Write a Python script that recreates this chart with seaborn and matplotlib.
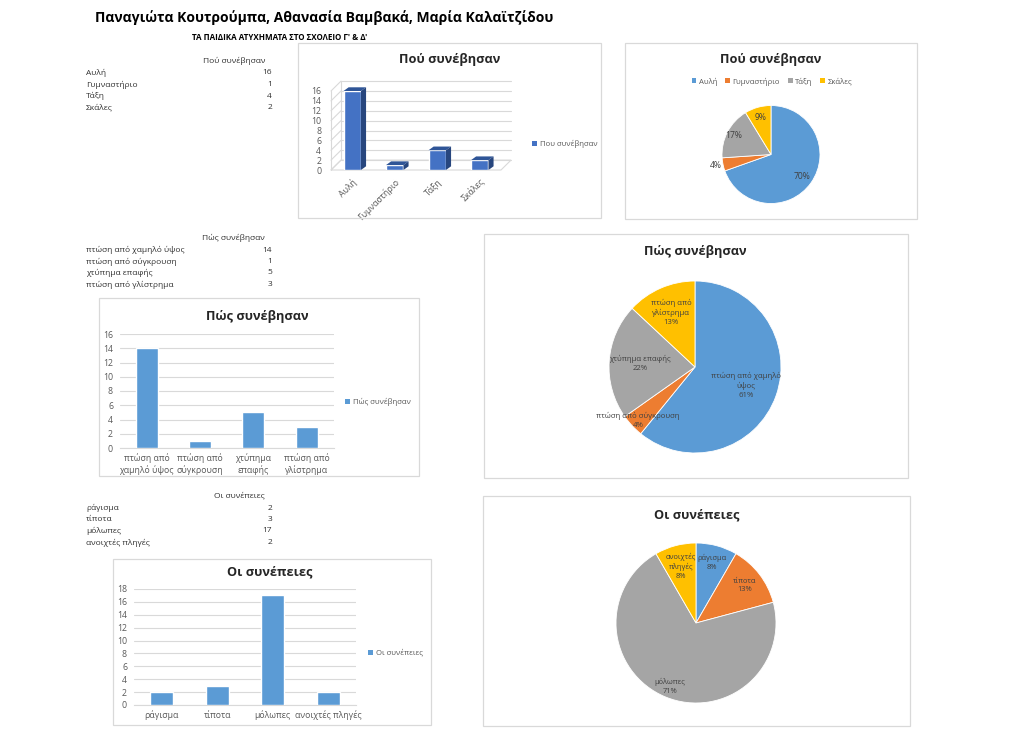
import numpy as np
import matplotlib
matplotlib.use("Agg")
import matplotlib.pyplot as plt
import seaborn as sns
from matplotlib.patches import Rectangle, Polygon, Patch

# ---------------- data ----------------
main_title = "Παναγιώτα Κουτρούμπα, Αθανασία Βαμβακά, Μαρία Καλαϊτζίδου"
sub_title = "ΤΑ ΠΑΙΔΙΚΑ ΑΤΥΧΗΜΑΤΑ ΣΤΟ ΣΧΟΛΕΙΟ Γ' & Δ'"

where_title = "Πού συνέβησαν"
where_legend = "Που συνέβησαν"
where_cats = ["Αυλή", "Γυμναστήριο", "Τάξη", "Σκάλες"]
where_vals = [16, 1, 4, 2]

how_title = "Πώς συνέβησαν"
how_cats = ["πτώση από χαμηλό ύψος", "πτώση από σύγκρουση", "χτύπημα επαφής", "πτώση από γλίστρημα"]
how_vals = [14, 1, 5, 3]
how_tick_labels = ["πτώση από\nχαμηλό ύψος", "πτώση από\nσύγκρουση", "χτύπημα\nεπαφής", "πτώση από\nγλίστρημα"]
how_pie_labels = ["πτώση από χαμηλό\nύψος", "πτώση από σύγκρουση", "χτύπημα επαφής", "πτώση από\nγλίστρημα"]

cons_title = "Οι συνέπειες"
cons_cats = ["ράγισμα", "τίποτα", "μόλωπες", "ανοιχτές πληγές"]
cons_vals = [2, 3, 17, 2]
cons_pie_labels = ["ράγισμα", "τίποτα", "μόλωπες", "ανοιχτές\nπληγές"]

# ---------------- style ----------------
sns.set_theme(style="white")
plt.rcParams['font.family'] = ['Open Sans', 'DejaVu Sans']

BAR_BLUE = "#5B9BD5"
BAR3D_FRONT = "#4472C4"
BAR3D_TOP = "#2F5597"
BAR3D_SIDE = "#27467E"
PIE_COLORS = ["#5B9BD5", "#ED7D31", "#A5A5A5", "#FFC000"]
GRID = "#D9D9D9"
TXT = "#595959"
LBL = "#404040"

W, H = 1024, 741
fig = plt.figure(figsize=(W / 100, H / 100), dpi=100)
fig.patch.set_facecolor("white")


def fx(x):
    return x / W


def fy(y):
    return 1 - y / H


def px_axes(x0, y0, x1, y1):
    return fig.add_axes([x0 / W, 1 - y1 / H, (x1 - x0) / W, (y1 - y0) / H])


def panel(x0, y0, x1, y1):
    fig.add_artist(Rectangle((fx(x0), fy(y1)), (x1 - x0) / W, (y1 - y0) / H,
                             transform=fig.transFigure, fill=False,
                             edgecolor=GRID, linewidth=0.9))


def pct_labels(vals):
    tot = sum(vals)
    return [f"{int(100 * v / tot + 0.5)}%" for v in vals]


# ---------------- titles ----------------
fig.text(fx(95), fy(18), main_title, fontsize=10.0, fontweight='bold',
         ha='left', va='center', color='black')
fig.text(fx(280), fy(37), sub_title, fontsize=5.8, fontweight='bold',
         ha='center', va='center', color='black')

# ---------------- tables ----------------
def table(header, cats, vals, y_head, ys):
    fig.text(fx(265), fy(y_head), header, fontsize=6, ha='right', va='center', color='#303030')
    for c, v, y in zip(cats, vals, ys):
        fig.text(fx(86), fy(y), c, fontsize=6, ha='left', va='center', color='#303030')
        fig.text(fx(272), fy(y), str(v), fontsize=6, ha='right', va='center', color='#303030')


table(where_title, where_cats, where_vals, 61, [73, 84.5, 96, 107.5])
table(how_title, how_cats, how_vals, 238, [250, 261.5, 273, 284.5])
table(cons_title, cons_cats, cons_vals, 496, [508, 519.5, 531, 542.5])

# ---------------- panels ----------------
panel(298, 43, 601, 218)
panel(625, 43, 917, 219)
panel(99, 298, 419, 476)
panel(484, 234, 908, 478)
panel(113, 559, 431, 725)
panel(483, 496, 910, 726)

# ---------------- 3D-like bar chart ----------------
ax1 = px_axes(331, 91, 501, 170)
ax1.set_facecolor('none')
wx, wy = 0.235, 2.0   # back wall offset (data units)
bx, by = 0.12, 0.75   # bar depth offset
yt = list(range(0, 17, 2))
for v in yt:
    ax1.plot([-0.5, -0.5 + wx], [v, v + wy], color=GRID, lw=0.8, clip_on=False, zorder=0.5)
    ax1.plot([-0.5 + wx, 3.5 + wx], [v + wy, v + wy], color=GRID, lw=0.8, clip_on=False, zorder=0.5)
ax1.plot([-0.5 + wx, -0.5 + wx], [wy, 16 + wy], color=GRID, lw=0.8, clip_on=False, zorder=0.5)
ax1.add_patch(Polygon([(-0.5, 0), (3.5, 0), (3.5 + wx, wy), (-0.5 + wx, wy)], closed=True,
                      fill=False, edgecolor=GRID, lw=0.8, clip_on=False, zorder=0.5))
ax1.plot([-0.5, -0.5], [0, 16], color=GRID, lw=0.8, clip_on=False, zorder=0.6)
sns.barplot(x=where_cats, y=where_vals, color=BAR3D_FRONT, saturation=1, width=0.41,
            errorbar=None, ax=ax1, zorder=3)
for p in list(ax1.patches):
    if not isinstance(p, Rectangle):
        continue
    x0, w, h = p.get_x(), p.get_width(), p.get_height()
    ax1.add_patch(Polygon([(x0, h), (x0 + bx, h + by), (x0 + w + bx, h + by), (x0 + w, h)],
                          closed=True, facecolor=BAR3D_TOP, edgecolor='none', clip_on=False, zorder=3))
    ax1.add_patch(Polygon([(x0 + w, 0), (x0 + w + bx, by), (x0 + w + bx, h + by), (x0 + w, h)],
                          closed=True, facecolor=BAR3D_SIDE, edgecolor='none', clip_on=False, zorder=3))
ax1.set_xlim(-0.5, 3.5)
ax1.set_ylim(0, 16)
ax1.set_yticks(yt)
ax1.set_xticks(range(len(where_cats)))
ax1.set_xticklabels(where_cats, rotation=45, ha='right', rotation_mode='anchor')
ax1.tick_params(axis='y', length=0, pad=7, labelsize=6.3, labelcolor=TXT)
ax1.tick_params(axis='x', length=0, pad=5, labelsize=6.3, labelcolor=TXT)
ax1.set_xlabel("")
ax1.set_ylabel("")
for s in ax1.spines.values():
    s.set_visible(False)
fig.text(fx(450), fy(60), where_title, fontsize=9.2, fontweight='bold', ha='center', va='center')
ax1.legend(handles=[Patch(facecolor=BAR3D_FRONT, edgecolor='none', label=where_legend)],
           loc='center left', bbox_to_anchor=(fx(532), fy(144)), bbox_transform=fig.transFigure,
           frameon=False, fontsize=5.6, handlelength=0.6, handleheight=0.6,
           handletextpad=0.4, borderpad=0, borderaxespad=0, labelcolor=TXT)


# ---------------- 2D bar charts ----------------
def bar2d(box, cats, vals, ticklabels, ymax, title, title_xy, leg_xy):
    ax = px_axes(*box)
    sns.barplot(x=cats, y=vals, color=BAR_BLUE, saturation=1, width=0.41,
                errorbar=None, ax=ax, zorder=3)
    ax.set_xlim(-0.5, len(cats) - 0.5)
    ax.set_ylim(0, ymax)
    ax.set_yticks(range(0, ymax + 1, 2))
    ax.yaxis.grid(True, color=GRID, lw=0.8, zorder=0)
    ax.set_axisbelow(True)
    ax.set_xticks(range(len(cats)))
    ax.set_xticklabels(ticklabels)
    ax.set_xticks(np.arange(-0.5, len(cats), 1.0), minor=True)
    ax.tick_params(axis='x', which='minor', length=3, color=GRID, width=0.8, direction='out')
    ax.tick_params(axis='x', which='major', length=0, pad=4, labelsize=6.3, labelcolor=TXT)
    ax.tick_params(axis='y', length=0, pad=5, labelsize=6.3, labelcolor=TXT)
    ax.set_xlabel("")
    ax.set_ylabel("")
    for k, s in ax.spines.items():
        s.set_visible(k == 'bottom')
    ax.spines['bottom'].set_color(GRID)
    ax.spines['bottom'].set_linewidth(0.8)
    fig.text(fx(title_xy[0]), fy(title_xy[1]), title, fontsize=9.2, fontweight='bold',
             ha='center', va='center')
    ax.legend(handles=[Patch(facecolor=BAR_BLUE, edgecolor='none', label=title)],
              loc='center left', bbox_to_anchor=(fx(leg_xy[0]), fy(leg_xy[1])),
              bbox_transform=fig.transFigure, frameon=False, fontsize=5.6,
              handlelength=0.6, handleheight=0.6, handletextpad=0.4,
              borderpad=0, borderaxespad=0, labelcolor=TXT)
    return ax


bar2d((120, 334, 333.5, 448), how_cats, how_vals, how_tick_labels, 16, how_title,
      (257, 317), (345, 402))
bar2d((134, 589, 356, 705), cons_cats, cons_vals, cons_cats, 18, cons_title,
      (270, 572), (368, 653))


# ---------------- pies ----------------
def draw_pie(cx, cy, r, vals, texts, dists, fs):
    ax = px_axes(cx - r, cy - r, cx + r, cy + r)
    wedges, _ = ax.pie(vals, colors=PIE_COLORS, startangle=90, counterclock=False,
                       wedgeprops=dict(linewidth=0.6, edgecolor='white'))
    ax.set_xlim(-1, 1)
    ax.set_ylim(-1, 1)
    ax.set_aspect('equal')
    ax.axis('off')
    for w, t, d in zip(wedges, texts, dists):
        ang = np.deg2rad((w.theta1 + w.theta2) / 2)
        ax.text(d * np.cos(ang), d * np.sin(ang), t, ha='center', va='center',
                fontsize=fs, color=LBL, linespacing=1.35)
    return ax


# pie 1
draw_pie(771, 154.5, 49, where_vals, pct_labels(where_vals), [0.78, 1.14, 0.85, 0.79], 6.2)
fig.text(fx(771), fy(60), where_title, fontsize=9.2, fontweight='bold', ha='center', va='center')
fig.legend(handles=[Patch(facecolor=c, edgecolor='none', label=l) for c, l in zip(PIE_COLORS, where_cats)],
           loc='center', bbox_to_anchor=(fx(772), fy(81.5)), ncol=4, frameon=False, fontsize=5.6,
           handlelength=0.6, handleheight=0.6, handletextpad=0.35, columnspacing=1.0,
           borderpad=0, labelcolor=TXT)

# pie 2
how_texts = [f"{l}\n{p}" for l, p in zip(how_pie_labels, pct_labels(how_vals))]
draw_pie(695, 367, 86, how_vals, how_texts, [0.63, 0.91, 0.64, 0.69], 5.6)
fig.text(fx(695), fy(252), how_title, fontsize=9.2, fontweight='bold', ha='center', va='center')

# pie 3
cons_texts = [f"{l}\n{p}" for l, p in zip(cons_pie_labels, pct_labels(cons_vals))]
draw_pie(696, 623, 80, cons_vals, cons_texts, [0.78, 0.77, 0.86, 0.73], 5.4)
fig.text(fx(697), fy(515), cons_title, fontsize=9.2, fontweight='bold', ha='center', va='center')

fig.savefig("out.png", dpi=100, facecolor='white')
